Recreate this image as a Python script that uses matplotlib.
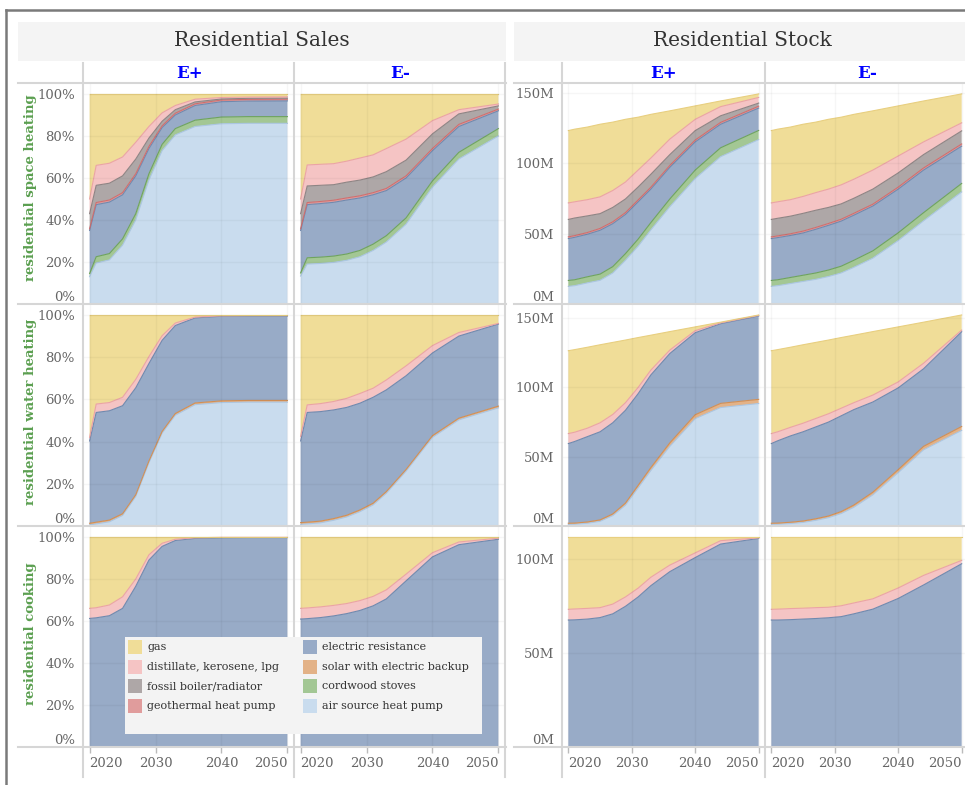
import numpy as np
import matplotlib.pyplot as plt
from matplotlib.patches import Rectangle
from matplotlib.lines import Line2D
from matplotlib.ticker import FuncFormatter

# ---- data -------------------------------------------------------------
years = [2020, 2021, 2023, 2025, 2027, 2029, 2031, 2033, 2036, 2040, 2044, 2050]
x_ticks = [2020, 2030, 2040, 2050]

row_labels = ["residential space heating", "residential water heating", "residential cooking"]
scenarios = ["E+", "E-"]
sections = ["Residential Sales", "Residential Stock"]

# stacking order, bottom -> top
space_techs = ["air source heat pump", "cordwood stoves", "electric resistance",
               "geothermal heat pump", "fossil boiler/radiator",
               "distillate, kerosene, lpg", "gas"]
water_techs = ["air source heat pump", "solar with electric backup", "electric resistance",
               "distillate, kerosene, lpg", "gas"]
cooking_techs = ["electric resistance", "distillate, kerosene, lpg", "gas"]

# sales shares (%), one row per tech in the order above
sales_space_eplus = [
    [13, 19.5, 21, 28, 40, 59, 73, 80.5, 84.5, 85.8, 86, 86],
    [1.5, 3, 3, 3, 3, 3, 3, 3, 3, 3.2, 3.2, 3.2],
    [20.5, 24.8, 24.5, 21, 18, 12, 8, 6.5, 7, 7.3, 7.4, 7.5],
    [0.8, 1, 1, 1, 1, 1, 0.8, 0.8, 0.8, 0.8, 0.8, 0.8],
    [7.2, 8.2, 8, 8, 7, 4, 2.2, 1.7, 0.9, 0.5, 0.5, 0.5],
    [7, 9.5, 9.5, 9, 8, 5.5, 4, 2, 1.3, 0.7, 0.6, 0.6],
    [50, 34, 33, 30, 23, 15.5, 9, 5.5, 2.5, 1.7, 1.5, 1.4],
]
sales_space_eminus = [
    [13.3, 19, 19.3, 19.8, 20.8, 22.5, 25.5, 29.5, 38, 55.6, 69, 80],
    [1.5, 3, 3, 3, 3, 3, 3, 3, 3, 3, 3.2, 3.5],
    [20.2, 25.3, 25.5, 25.6, 25.7, 25, 23.5, 21.5, 19, 14.4, 12.3, 8.5],
    [0.8, 1, 1, 1, 1, 1, 1, 1, 1, 1, 1, 0.8],
    [7.2, 7.9, 7.7, 7.4, 7.5, 7.5, 7.5, 8, 7.5, 7, 5, 1.5],
    [7, 10, 10, 10, 10, 10.5, 10.5, 11, 10, 6.3, 2, 0.9],
    [50, 33.8, 33.5, 33.2, 32, 30.5, 29, 26, 21.5, 12.7, 7.5, 4.8],
]
sales_water_eplus = [
    [0.5, 1, 2, 5, 14, 30, 44, 52.5, 57.5, 58.5, 58.7, 58.7],
    [0.8, 0.8, 0.8, 0.8, 0.8, 0.8, 0.8, 0.8, 0.8, 0.8, 0.8, 0.8],
    [39, 52, 51.8, 51.2, 50.7, 46.2, 43.2, 41.7, 40.3, 40.1, 40, 40],
    [1.7, 4, 3.9, 4, 4, 3.3, 2.2, 1.2, 0.4, 0.2, 0.2, 0.2],
    [58, 42.2, 41.5, 39, 30.5, 19.7, 9.8, 3.8, 1, 0.4, 0.3, 0.3],
]
sales_water_eminus = [
    [0.8, 1, 1.5, 2.7, 4.3, 6.8, 10, 15.5, 26, 42, 50.3, 56],
    [0.8, 0.8, 0.8, 0.8, 0.8, 0.8, 0.8, 0.8, 0.8, 0.8, 0.8, 0.8],
    [38.7, 52, 51.9, 51.5, 51.1, 50.6, 50.2, 48.2, 44.4, 39.2, 38.9, 38.9],
    [2.2, 3.6, 3.8, 4, 4.3, 4.6, 4.3, 4.7, 4.7, 3.5, 1.7, 0.3],
    [57.5, 42.6, 42, 41, 39.5, 37.2, 34.7, 30.8, 24.1, 14.5, 8.3, 4],
]
sales_cook_eplus = [
    [61.2, 61.5, 62.5, 66, 76.5, 89, 95.5, 98.3, 99.3, 99.6, 99.7, 99.7],
    [4.8, 4.8, 5.1, 5.5, 3.5, 2.5, 1.5, 0.6, 0.3, 0.2, 0.1, 0.1],
    [34, 33.7, 32.4, 28.5, 20, 8.5, 3, 1.1, 0.4, 0.2, 0.2, 0.2],
]
sales_cook_eminus = [
    [60.9, 61.1, 61.6, 62.4, 63.5, 65, 67.2, 70.5, 79.1, 90.5, 96.3, 98.9],
    [5.1, 5.1, 5.1, 5, 4.8, 4.7, 4.5, 4.3, 3.2, 2, 1.3, 0.5],
    [34, 33.8, 33.3, 32.6, 31.7, 30.3, 28.3, 25.2, 17.7, 7.5, 2.4, 0.6],
]

# stock (million units)
stock_space_eplus = [
    [12.5, 13, 15, 16.8, 22, 31, 41, 52.5, 69, 89, 104.5, 116.6],
    [4.2, 4.2, 4.3, 4.4, 4.5, 4.7, 5, 5.2, 5.5, 6, 6.3, 6.5],
    [29.7, 30.1, 30.2, 31.1, 30.5, 27.8, 26.5, 23.8, 22.5, 20, 16.7, 15.9],
    [1.2, 1.2, 1.2, 1.3, 1.3, 1.3, 1.3, 1.3, 1.3, 1.3, 1.3, 1.3],
    [12.4, 12.5, 11.8, 10.5, 10.2, 9.7, 9.2, 9.2, 7.7, 6.7, 4.7, 2.2],
    [11.7, 11.5, 11.5, 11.9, 12, 12, 12, 11.5, 11, 8, 6.5, 4],
    [51.3, 51.5, 51.5, 51.5, 48.5, 44.5, 37.5, 31, 20, 9.5, 4, 2.5],
]
stock_space_eminus = [
    [12.5, 13, 14.5, 16, 17.5, 19.5, 22, 26, 32.5, 45, 59, 79.5],
    [4.2, 4.2, 4.3, 4.4, 4.5, 4.6, 4.8, 5, 5.2, 5.5, 5.8, 6],
    [29.7, 29.9, 29.8, 30, 31, 31.7, 32, 32, 31.8, 31, 30.2, 26.5],
    [1.2, 1.2, 1.2, 1.3, 1.3, 1.3, 1.3, 1.3, 1.3, 1.4, 1.5, 1.5],
    [12.4, 12.5, 12.5, 12.6, 12.2, 11.4, 10.9, 10.7, 10.7, 10.1, 9.5, 9.3],
    [11.7, 11.7, 11.7, 12, 12.5, 13, 13.5, 13.5, 13.5, 12, 9, 5.7],
    [51.3, 51.5, 51.5, 51.2, 50, 49.5, 48, 46, 42, 35.5, 29, 20.5],
]
stock_water_eplus = [
    [1.2, 1.3, 2, 3.4, 7.5, 15, 27.5, 40, 57.5, 77.5, 85.5, 88.4],
    [0.8, 0.8, 0.9, 1, 1.2, 1.5, 1.8, 2.1, 2.5, 2.8, 3, 3],
    [57.5, 58.9, 61.6, 63.6, 65.8, 67, 66.2, 66.9, 64.5, 59.2, 57.5, 60.2],
    [7.2, 6.7, 6.1, 6.5, 6, 5.5, 4.5, 3.5, 2.5, 1.5, 0.6, 0.4],
    [59.8, 59.6, 58.4, 56.3, 52, 45.2, 36, 25.2, 13.3, 2.7, 0.5, 0.3],
]
stock_water_eminus = [
    [1.2, 1.3, 1.8, 2.6, 4.1, 6, 9, 13.5, 22.5, 38.5, 55, 69],
    [0.8, 0.8, 0.9, 1, 1.1, 1.2, 1.4, 1.6, 1.9, 2.2, 2.5, 2.8],
    [57.5, 59.4, 62.3, 64.4, 66.3, 67.8, 69.1, 68.9, 65.1, 59, 56, 68.4],
    [7.2, 6.5, 6.2, 6.2, 6.1, 6, 5.5, 5, 5, 4.3, 4, 1.2],
    [59.8, 59.3, 57.8, 56.6, 54.9, 53.2, 51, 48.7, 45.8, 39.7, 29.6, 10.9],
]
stock_cook_eplus = [
    [67.7, 67.8, 68.2, 69, 71, 75, 80, 86, 93.5, 101, 108.2, 111.2],
    [5.7, 5.8, 5.7, 5.3, 5.2, 5, 4.7, 4.5, 3.5, 2.5, 1.8, 0.3],
    [38.6, 38.4, 38.1, 37.7, 35.8, 32, 27.3, 21.5, 15, 8.5, 2, 0.5],
]
stock_cook_eminus = [
    [67.7, 67.7, 67.9, 68.2, 68.5, 68.9, 69.5, 71, 73.5, 79.2, 86.4, 97.7],
    [5.7, 5.8, 5.9, 5.8, 5.8, 5.6, 5.8, 5.8, 5.5, 5.6, 5.1, 1.8],
    [38.6, 38.5, 38.2, 38, 37.7, 37.5, 36.7, 35.2, 33, 27.2, 20.5, 12.5],
]

sales_ticks = [0, 20, 40, 60, 80, 100]
stock_ticks = [0, 50, 100, 150]

legend_col1 = ["gas", "distillate, kerosene, lpg", "fossil boiler/radiator", "geothermal heat pump"]
legend_col2 = ["electric resistance", "solar with electric backup", "cordwood stoves", "air source heat pump"]

# ---- style ------------------------------------------------------------
fill = {
    "gas": "#f0dd98",
    "distillate, kerosene, lpg": "#f5c4c4",
    "fossil boiler/radiator": "#aea7a7",
    "geothermal heat pump": "#e09c9c",
    "electric resistance": "#98abc7",
    "solar with electric backup": "#e3b287",
    "cordwood stoves": "#a3c794",
    "air source heat pump": "#c9dcee",
}
edge = {
    "gas": "#e8cf80",
    "distillate, kerosene, lpg": "#eba4a4",
    "fossil boiler/radiator": "#8e8484",
    "geothermal heat pump": "#cf6e6e",
    "electric resistance": "#7089ae",
    "solar with electric backup": "#d18f55",
    "cordwood stoves": "#6ea35e",
    "air source heat pump": "#abc6e2",
}
tick_color = "#666666"
line_color = "#d6d6d6"
green = "#5b9f50"

plt.rcParams["font.family"] = "DejaVu Serif"

W, H = 965, 785
fig = plt.figure(figsize=(W / 100, H / 100), dpi=100)


def px_rect(x0, y0, x1, y1):
    # pixel box (origin top-left) -> figure fraction rect
    return [x0 / W, 1 - y1 / H, (x1 - x0) / W, (y1 - y0) / H]


def fig_line(xs, ys, **kw):
    fig.add_artist(Line2D([x / W for x in xs], [1 - y / H for y in ys],
                          transform=fig.transFigure, **kw))


def draw_panel(ax, techs, layers, ytop, yticks, unit, show_y, show_x):
    ax.stackplot(years, *layers, colors=[fill[t] for t in techs], lw=0)
    tops = np.cumsum(np.array(layers, dtype=float), axis=0)
    for t, top in zip(techs, tops):
        ax.plot(years, top, color=edge[t], lw=0.8)
    ax.set_xticks(x_ticks)
    ax.set_yticks([v for v in yticks if v <= ytop])
    ax.set_xlim(2019, 2051)
    ax.set_ylim(0, ytop)
    ax.yaxis.set_major_formatter(FuncFormatter(lambda v, p: f"{v:.0f}{unit}"))
    ax.grid(True, color="k", alpha=0.035, lw=1)
    ax.set_axisbelow(False)
    for s in ax.spines.values():
        s.set_visible(False)
    ax.tick_params(axis="y", length=0, pad=5.8, labelsize=9.5, labelcolor=tick_color,
                   labelleft=show_y)
    ax.tick_params(axis="x", length=4, width=1, color="#bbbbbb", direction="out", pad=3,
                   labelsize=9.5, labelcolor=tick_color, labelbottom=show_x, bottom=show_x)
    if show_y:
        ax.yaxis.get_major_ticks()[0].label1.set_va("bottom")
    if show_x:
        xt = ax.xaxis.get_major_ticks()
        xt[0].label1.set_ha("left")
        xt[0].label1.set_x(2019.4)
        xt[-1].label1.set_ha("right")


# ---- header boxes / frame --------------------------------------------
fig.add_artist(Rectangle((18 / W, 1 - 61 / H), (506 - 18) / W, 39 / H,
                         transform=fig.transFigure, color="#f4f4f4", lw=0))
fig.add_artist(Rectangle((514 / W, 1 - 61 / H), (970 - 514) / W, 39 / H,
                         transform=fig.transFigure, color="#f4f4f4", lw=0))
fig.text(262 / W, 1 - 41 / H, sections[0], ha="center", va="center", fontsize=14.5, color="#333333")
fig.text(742 / W, 1 - 41 / H, sections[1], ha="center", va="center", fontsize=14.5, color="#333333")

fig_line([6, 965], [10, 10], color="#7a7a7a", lw=1.8)
fig_line([6, 6], [10, 785], color="#7a7a7a", lw=1.8)

# ---- panels -----------------------------------------------------------
row_px = [(83, 304), (304, 526), (526, 747)]
sales_cols_px = [(83, 294), (294, 505)]
stock_cols_px = [(562, 765), (765, 968)]

rows = [
    (space_techs, [sales_space_eplus, sales_space_eminus], [stock_space_eplus, stock_space_eminus]),
    (water_techs, [sales_water_eplus, sales_water_eminus], [stock_water_eplus, stock_water_eminus]),
    (cooking_techs, [sales_cook_eplus, sales_cook_eminus], [stock_cook_eplus, stock_cook_eminus]),
]

for i, (techs, sales, stock) in enumerate(rows):
    y0, y1 = row_px[i]
    last = i == len(rows) - 1
    stock_max = max(np.sum(np.array(d), axis=0).max() for d in stock)
    for j in range(2):
        ax = fig.add_axes(px_rect(sales_cols_px[j][0], y0, sales_cols_px[j][1], y1))
        draw_panel(ax, techs, sales[j], 105.2, sales_ticks, "%", j == 0, last)
        ax = fig.add_axes(px_rect(stock_cols_px[j][0], y0, stock_cols_px[j][1], y1))
        draw_panel(ax, techs, stock[j], stock_max * 1.052, stock_ticks, "M", j == 0, last)

# column headers
for xc, lab in zip([189, 400, 663, 867], scenarios * 2):
    fig.text(xc / W, 1 - 73 / H, lab, ha="center", va="center", fontsize=12,
             fontweight="bold", color="#0000ff")

# row labels
for yc, lab in zip([188, 412, 634], row_labels):
    fig.text(31 / W, 1 - yc / H, lab, rotation=90, ha="center", va="center",
             fontsize=9.5, fontweight="bold", color=green)

# table lines
for y in [83, 304, 526, 747]:
    fig_line([18, 506], [y, y], color=line_color, lw=1.5)
    fig_line([514, 965], [y, y], color=line_color, lw=1.5)
for x in [83, 294, 505, 562, 765]:
    fig_line([x, x], [63, 777], color=line_color, lw=1.5)

# ---- legend (drawn above the table lines) -----------------------------
lax = fig.add_axes(px_rect(125, 637, 482, 734))
lax.set_zorder(5)
lax.set_xlim(125, 482)
lax.set_ylim(734, 637)
lax.set_facecolor("#f3f3f3")
for s in lax.spines.values():
    s.set_visible(False)
lax.set_xticks([])
lax.set_yticks([])
for col, (sx, names) in enumerate([(128, legend_col1), (303, legend_col2)]):
    for k, name in enumerate(names):
        yc = 647 + k * 19.7
        lax.add_patch(Rectangle((sx, yc - 7), 14, 14, color=fill[name], lw=0))
        lax.text(sx + 19, yc, name, ha="left", va="center", fontsize=8, color="#333333")

fig.savefig("out.png", dpi=100)
